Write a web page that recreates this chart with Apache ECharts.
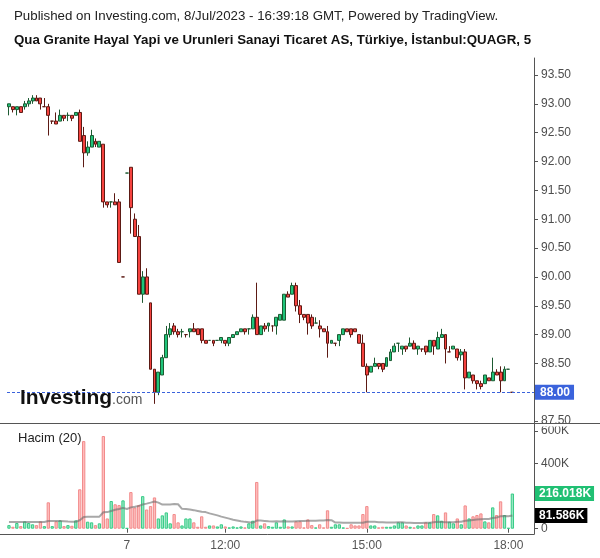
<!DOCTYPE html>
<html><head><meta charset="utf-8">
<script src="https://cdn.jsdelivr.net/npm/echarts@6/dist/echarts.min.js"></script>
<style>html,body{margin:0;padding:0;background:#fff}#c{width:600px;height:558px}</style>
</head><body><div id="c"></div>
<script>
// ---- data (5-minute bars, 6 Jul 15:35 .. 7 Jul 18:05) ----
const opens = [92.95,92.95,92.90,92.95,92.95,93.00,93.05,93.10,93.10,92.95,
 92.95,92.70,92.70,92.70,92.80,92.80,92.80,92.80,92.85,92.45,
 92.15,92.25,92.35,92.25,92.30,91.30,91.30,91.30,91.30,90.00,
 91.80,91.90,91.00,90.70,89.70,90.00,89.55,88.40,88.00,88.30,
 88.60,89.00,89.15,89.05,89.05,89.00,89.05,89.10,89.10,89.10,
 88.90,88.90,88.90,88.90,88.90,88.90,88.85,88.95,89.00,89.05,
 89.10,89.10,89.10,89.30,89.00,89.15,89.15,89.15,89.15,89.25,
 89.25,89.70,89.70,89.85,89.50,89.35,89.35,89.30,89.20,89.15,
 89.10,89.05,88.85,88.85,88.90,89.00,89.10,89.10,89.10,89.00,
 88.85,88.45,88.35,88.45,88.50,88.50,88.45,88.55,88.70,88.85,
 88.75,88.80,88.80,88.85,88.75,88.75,88.80,88.70,88.90,88.75,
 88.95,89.00,88.70,88.75,88.75,88.65,88.70,88.25,88.30,88.20,
 88.15,88.15,88.25,88.20,88.35,88.35,88.20,88.40,88.00];
const highs = [93.00,92.95,92.95,92.95,93.05,93.10,93.15,93.15,93.10,93.10,
 93.00,92.70,92.85,92.90,92.80,92.85,92.80,92.85,92.90,92.60,
 92.35,92.55,92.40,92.35,92.30,91.30,91.30,91.45,91.35,90.00,
 91.80,91.90,91.10,90.90,90.10,90.15,89.55,88.40,88.35,88.65,
 89.15,89.20,89.20,89.10,89.10,89.00,89.10,89.20,89.10,89.10,
 88.90,88.90,88.90,88.90,88.95,88.90,88.95,89.00,89.05,89.10,
 89.10,89.10,89.35,89.90,89.15,89.20,89.20,89.15,89.30,89.35,
 89.70,89.75,89.90,89.90,89.60,89.35,89.35,89.35,89.30,89.25,
 89.10,89.15,88.90,88.85,89.00,89.10,89.10,89.10,89.10,89.00,
 89.00,88.50,88.45,88.60,88.50,88.50,88.60,88.75,88.85,88.85,
 88.80,88.80,88.95,88.90,88.80,88.75,88.80,88.90,88.90,89.05,
 89.10,89.00,88.80,88.80,88.75,88.75,88.75,88.35,88.30,88.20,
 88.20,88.30,88.25,88.60,88.40,88.45,88.45,88.40,88.00];
const lows = [92.80,92.85,92.80,92.85,92.90,92.95,93.00,93.05,92.90,92.95,
 92.45,92.65,92.65,92.70,92.70,92.70,92.70,92.80,92.35,91.90,
 92.10,92.25,92.25,92.25,91.20,91.20,91.20,91.25,90.25,90.00,
 91.80,90.75,90.70,89.70,89.55,89.70,88.40,87.80,87.95,88.30,
 88.60,88.95,89.00,88.95,88.95,88.95,88.95,89.05,89.00,88.85,
 88.85,88.90,88.80,88.90,88.85,88.80,88.80,88.95,89.00,89.05,
 89.00,89.00,89.10,89.00,89.00,89.05,89.05,89.05,89.00,89.25,
 89.25,89.65,89.70,89.40,89.20,89.25,89.00,89.10,89.20,88.95,
 89.05,88.60,88.85,88.80,88.80,89.00,89.05,88.95,89.05,88.85,
 88.45,88.00,88.35,88.45,88.40,88.35,88.45,88.55,88.70,88.70,
 88.65,88.70,88.80,88.75,88.65,88.70,88.65,88.70,88.65,88.75,
 88.95,88.50,88.70,88.75,88.55,88.55,88.05,88.25,88.15,88.05,
 88.05,88.15,88.20,88.20,88.30,88.00,88.20,88.40,88.00];
const closes = [93.00,92.90,92.95,92.85,93.00,93.05,93.10,93.05,93.00,92.95,
 92.80,92.70,92.65,92.80,92.75,92.80,92.75,92.85,92.35,92.15,
 92.25,92.45,92.30,92.35,91.30,91.25,91.30,91.25,90.25,90.00,
 91.80,91.20,90.70,89.70,90.00,89.70,88.40,88.00,88.35,88.60,
 89.00,89.10,89.05,89.00,89.05,89.00,89.10,89.05,89.00,88.90,
 88.85,88.90,88.85,88.90,88.95,88.85,88.95,89.00,89.05,89.10,
 89.05,89.10,89.30,89.00,89.15,89.10,89.20,89.15,89.30,89.35,
 89.70,89.65,89.85,89.50,89.35,89.30,89.20,89.15,89.20,89.10,
 89.05,88.85,88.90,88.85,89.00,89.10,89.05,89.00,89.05,88.85,
 88.45,88.30,88.45,88.50,88.45,88.40,88.60,88.70,88.80,88.85,
 88.80,88.75,88.85,88.75,88.80,88.75,88.70,88.90,88.80,88.95,
 89.00,88.75,88.70,88.80,88.60,88.70,88.25,88.35,88.20,88.15,
 88.10,88.30,88.20,88.35,88.30,88.20,88.40,88.40,88.00];
// volume in thousands
const volumes = [22,12,35,16,45,35,27,22,45,16,
 162,16,45,51,16,22,18,51,242,538,
 43,39,22,33,569,63,170,150,145,174,
 4,225,130,145,200,118,139,192,63,82,
 100,33,90,39,20,63,63,39,12,76,
 12,20,20,14,27,14,8,14,8,14,
 8,33,49,287,20,33,16,12,39,12,
 57,14,14,45,45,8,57,22,8,27,
 8,113,12,27,27,8,4,27,20,20,
 90,139,20,20,8,12,12,12,20,39,
 39,20,12,8,20,20,39,39,90,82,
 49,100,43,33,63,27,143,63,76,84,
 94,45,39,131,84,168,84,5,216.018];
// Hacim (20) line, thousands
const volumeMA = [41,41,41,41,41,41,41,41,41,41,
 47,47,47,47,46,44,43,43,52,72,
 73,74,74,74,101,102,109,116,121,128,
 121,131,135,140,149,154,160,167,160,148,
 149,149,151,150,122,121,118,114,109,104,
 102,94,88,82,74,68,62,55,51,46,
 42,40,37,50,50,48,46,45,46,44,
 46,45,45,46,47,47,49,49,49,50,
 50,53,52,38,38,37,36,37,36,36,
 37,43,43,42,40,40,38,38,38,39,
 40,36,36,35,35,35,37,37,40,43,
 41,39,40,40,43,43,49,51,54,56,
 58,59,60,66,69,76,78,76,81.586];
const dayLabels = ['2023-07-07 09:55','2023-07-07 12:00','2023-07-07 15:00','2023-07-07 18:00'];
const lastPrice = 88.00;
const lastVolume = 216.018;
const lastVolumeMA = 81.586;

// ---- categories ----
function pad(n){return (n<10?'0':'')+n;}
const cats = [];
for (let m = 15*60+35; m <= 18*60; m += 5) cats.push('2023-07-06 ' + pad(Math.floor(m/60)) + ':' + pad(m%60));
for (let m = 9*60+55; m <= 18*60+5; m += 5) cats.push('2023-07-07 ' + pad(Math.floor(m/60)) + ':' + pad(m%60));
for (let k = 1; k <= 5; k++) cats.push('pad' + k);

const showSet = new Set(dayLabels);
const showFn = (idx, val) => showSet.has(val);
const fmtX = v => v.endsWith('09:55') ? '7' : v.slice(11);

const FF = '"Liberation Sans", Arial, sans-serif';
const upVol = {color:'rgba(50,205,135,0.5)', borderColor:'#36cc86', borderWidth:1};
const dnVol = {color:'rgba(255,125,125,0.5)', borderColor:'#f28b8b', borderWidth:1};

const candleData = opens.map((o,i)=>[o, closes[i], lows[i], highs[i]]);
const volData = volumes.map((v,i)=>({value:v, itemStyle: closes[i] >= opens[i] ? upVol : dnVol}));

const chart = echarts.init(document.getElementById('c'), null, {renderer:'canvas'});
chart.setOption({
  animation:false,
  backgroundColor:'#fff',
  textStyle:{fontFamily:FF},
  grid:[
    {left:7, right:66, top:58, height:365, outerBoundsMode:'none', containLabel:false},
    {left:7, right:66, top:423, height:111, outerBoundsMode:'none', containLabel:false}
  ],
  xAxis:[
    {type:'category', gridIndex:0, data:cats, boundaryGap:true,
     axisLine:{show:false}, axisTick:{show:false}, axisLabel:{show:false}, splitLine:{show:false}},
    {type:'category', gridIndex:1, data:cats, boundaryGap:true,
     axisLine:{show:false},
     axisTick:{show:true, interval:showFn, alignWithLabel:true, length:4, lineStyle:{color:'#555'}},
     axisLabel:{interval:showFn, formatter:fmtX, color:'#555', fontSize:12, margin:6, fontFamily:FF},
     splitLine:{show:false}}
  ],
  yAxis:[
    {type:'value', gridIndex:0, position:'right', min:87.468, max:93.794, splitNumber:12,
     axisLine:{show:true, lineStyle:{color:'#555'}},
     axisTick:{show:true, length:4, lineStyle:{color:'#555'}},
     axisLabel:{color:'#4d4d4d', fontSize:12, margin:7, fontFamily:FF,
       formatter:v=>v.toFixed(2), showMinLabel:false, showMaxLabel:false},
     splitLine:{show:false}},
    {type:'value', gridIndex:1, position:'right', min:-32.5, max:649, splitNumber:3,
     axisLine:{show:true, lineStyle:{color:'#555'}},
     axisTick:{show:true, length:4, lineStyle:{color:'#555'}},
     axisLabel:{color:'#4d4d4d', fontSize:12, margin:7, fontFamily:FF,
       formatter:v=> v===0 ? '0' : (Math.abs(v-200)<1 ? '' : Math.round(v)+'K'),
       showMinLabel:false, showMaxLabel:false},
     splitLine:{show:false}}
  ],
  series:[
    {type:'candlestick', name:'QUAGR', xAxisIndex:0, yAxisIndex:0, data:candleData, barWidth:3.4,
     itemStyle:{color:'#1fc47a', color0:'#f5423f', borderColor:'#1d5a32', borderColor0:'#5c1a14', borderWidth:1},
     markLine:{silent:true, symbol:'none', animation:false,
       data:[{yAxis:lastPrice}],
       lineStyle:{color:'#3b63dc', type:[3,2], width:1},
       label:{show:true, position:'end', distance:1, formatter:()=>lastPrice.toFixed(2),
         backgroundColor:'#3b63dc', color:'#fff', fontWeight:'bold', fontSize:12, fontFamily:FF, padding:[2,4,1,5]}}
    },
    {type:'bar', name:'Hacim', xAxisIndex:1, yAxisIndex:1, data:volData, barWidth:3.3,
     markLine:{silent:true, symbol:'none', animation:false,
       lineStyle:{color:'rgba(0,0,0,0)', width:0},
       data:[
         {yAxis:lastVolume, label:{show:true, position:'end', distance:1, formatter:lastVolume.toFixed(3)+'K',
           backgroundColor:'#20c073', color:'#fff', fontWeight:'bold', fontSize:12, fontFamily:FF, padding:[2,3,1,4]}},
         {yAxis:lastVolumeMA, label:{show:true, position:'end', distance:1, formatter:lastVolumeMA.toFixed(3)+'K',
           backgroundColor:'#000', color:'#fff', fontWeight:'bold', fontSize:12, fontFamily:FF, padding:[2,3,1,4]}}
       ]}
    },
    {type:'line', name:'Hacim (20)', xAxisIndex:1, yAxisIndex:1, data:volumeMA, symbol:'none', z:5,
     lineStyle:{color:'rgba(110,110,110,0.6)', width:2}}
  ],
  graphic:[
    {type:'text', left:14, top:10, z:50, style:{text:'Published on Investing.com, 8/Jul/2023 - 16:39:18 GMT, Powered by TradingView.', font:'13.3px '+FF, fill:'#222'}},
    {type:'text', left:14, top:34, z:50, style:{text:'Qua Granite Hayal Yapi ve Urunleri Sanayi Ticaret AS, Türkiye, İstanbul:QUAGR, 5', font:'bold 13.3px '+FF, fill:'#111'}},
    {type:'text', left:18, top:432, z:50, style:{text:'Hacim (20)', font:'13px '+FF, fill:'#222'}},
    {type:'text', left:20, top:388, z:50, style:{text:'Investing', font:'bold 21px '+FF, fill:'#111'}},
    {type:'text', left:112, top:393, z:50, style:{text:'.com', font:'14px '+FF, fill:'#555'}},
    {type:'line', z:60, shape:{x1:0, y1:423.5, x2:600, y2:423.5}, style:{stroke:'#555', lineWidth:1}},
    {type:'line', z:60, shape:{x1:0, y1:534.5, x2:534.5, y2:534.5}, style:{stroke:'#555', lineWidth:1}},
    {type:'rect', z:55, shape:{x:536, y:423.5, width:64, height:3}, style:{fill:'#fff'}}
  ]
});
</script>
</body></html>
